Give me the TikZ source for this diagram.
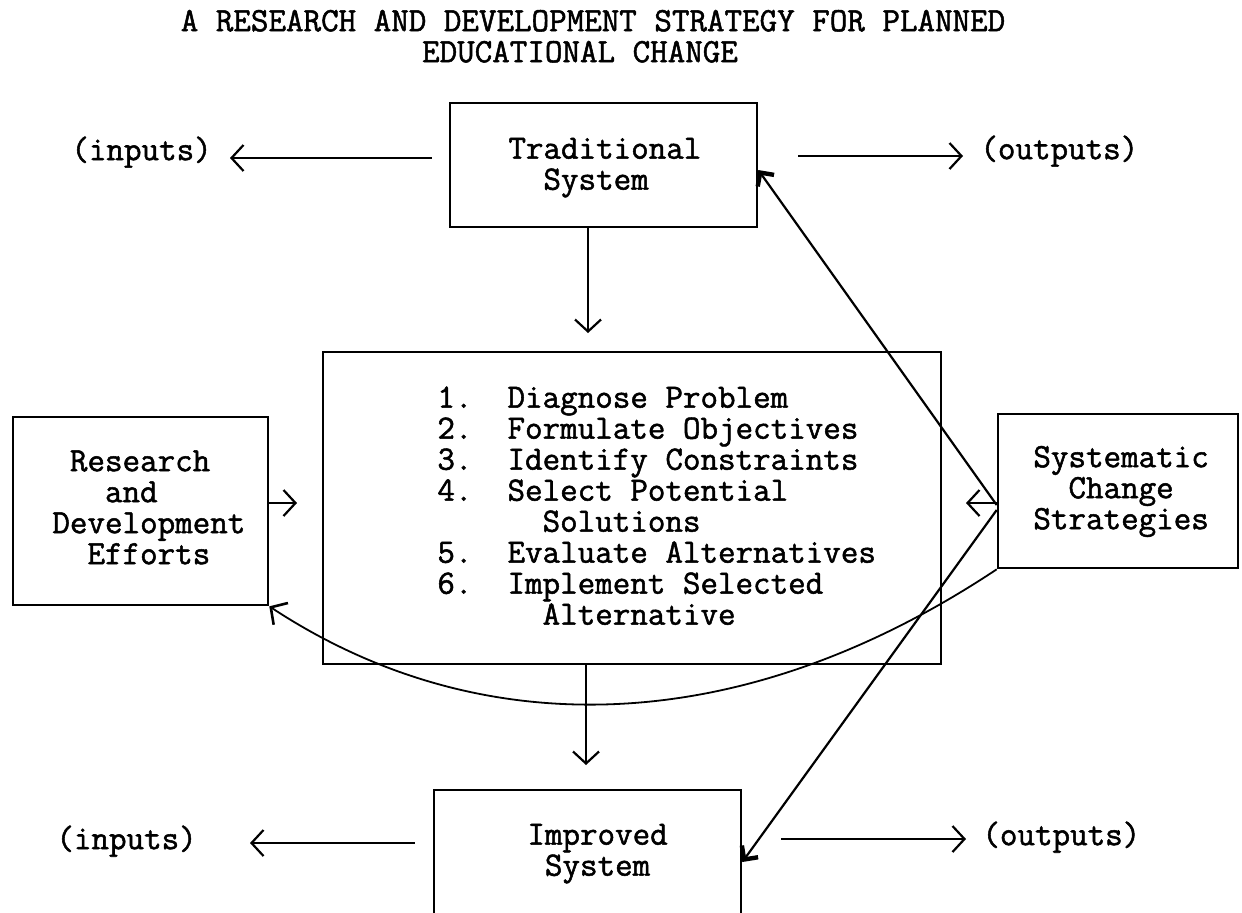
\documentclass[tikz,border=0pt]{standalone}
\usepackage{fontspec}
\newfontfamily\tw{Latin Modern Mono}[FakeBold=1.5]
\usetikzlibrary{arrows.meta}
\begin{document}
\begin{tikzpicture}[x=0.5pt,y=-0.5pt,
  txt/.style={font=\tw\fontsize{17.03pt}{15.5pt}\selectfont, inner sep=0pt, align=left},
  box/.style={draw, line width=1.3pt, inner sep=0pt},
  arr/.style={line width=1.1pt, -{Straight Barb[length=6pt,width=13pt]}},
  harr/.style={line width=1.1pt, -{Straight Barb[length=5pt,width=10pt,line width=2.2pt]}},
  carr/.style={line width=0.9pt, -{Straight Barb[length=6pt,width=13pt,line width=1.3pt]}}]
\useasboundingbox (0,0) rectangle (1242,912);
\fill[white] (0,0) rectangle (1242,912);
\clip (0,0) rectangle (1242,912);

% title
\node[txt] (title1) at (593,25) {\strut A RESEARCH AND DEVELOPMENT STRATEGY FOR PLANNED};
\node[txt] (title2) at (580,56) {\strut EDUCATIONAL CHANGE};

% boxes
\node[box, minimum width=153.5pt, minimum height=62pt] (trad) at (603.5,165) {};
\node[txt, anchor=west] (tradtxt) at (508,168) {\strut Traditional\\\strut~~System};

\node[box, minimum width=309pt, minimum height=156pt] (cbox) at (632,508) {};
\node[txt, anchor=west] (list) at (437,510) {\strut 1.~~Diagnose Problem\\
\strut 2.~~Formulate Objectives\\
\strut 3.~~Identify Constraints\\
\strut 4.~~Select Potential\\
\strut ~~~~~~Solutions\\
\strut 5.~~Evaluate Alternatives\\
\strut 6.~~Implement Selected\\
\strut ~~~~~~Alternative};

\node[box, minimum width=127.5pt, minimum height=94pt] (rd) at (140.5,511) {};
\node[txt, anchor=west] (rdtxt) at (52,511.5) {\strut ~Research\\\strut ~~~and\\\strut Development\\\strut ~~Efforts};

\node[box, minimum width=120pt, minimum height=77pt] (sys) at (1118,491) {};
\node[txt, anchor=west] (systxt) at (1033,492) {\strut Systematic\\\strut ~~Change\\\strut Strategies};

\node[box, minimum width=153.5pt, minimum height=72pt] (impr) at (587.5,862) {};
\node[txt, anchor=west] (imprtxt) at (527,854) {\strut Improved\\\strut ~System};

% inputs / outputs labels
\node[txt, anchor=west] (inT) at (71,153) {\strut (inputs)};
\node[txt, anchor=west] (outT) at (980,152) {\strut (outputs)};
\node[txt, anchor=west] (inB) at (56,842) {\strut (inputs)};
\node[txt, anchor=west] (outB) at (982,838) {\strut (outputs)};

% arrow tips
\coordinate (it) at (230,158);
\coordinate (ot) at (963,156);
\coordinate (ib) at (250,843);
\coordinate (ob) at (966,839);
\coordinate (d1) at (588,333);
\coordinate (d2) at (586,765);
\coordinate (rt) at (297,503);
\coordinate (st) at (966,503);

% connectors
\draw[arr] ([xshift=-8.5pt]trad.west |- it) -- (it);
\draw[arr] ([xshift=20pt]trad.east |- ot) -- (ot);
\draw[arr] ([xshift=-9pt]impr.west |- ib) -- (ib);
\draw[arr] ([xshift=19.5pt]impr.east |- ob) -- (ob);
\draw[arr] (d1 |- trad.south) -- (d1);
\draw[arr] (d2 |- cbox.south) -- (d2);
\draw[arr] (rt -| rd.east) -- (rt);
\draw[arr] (st -| sys.west) -- (st);
\draw[harr] ([yshift=-7pt]sys.west) -- ([yshift=-2.5pt]trad.east);
\draw[harr] ([yshift=-9.5pt]sys.west) -- (impr.east);
\draw[carr] (sys.south west) .. controls (740,740) and (480,745) .. (rd.south east);
\end{tikzpicture}
\end{document}
